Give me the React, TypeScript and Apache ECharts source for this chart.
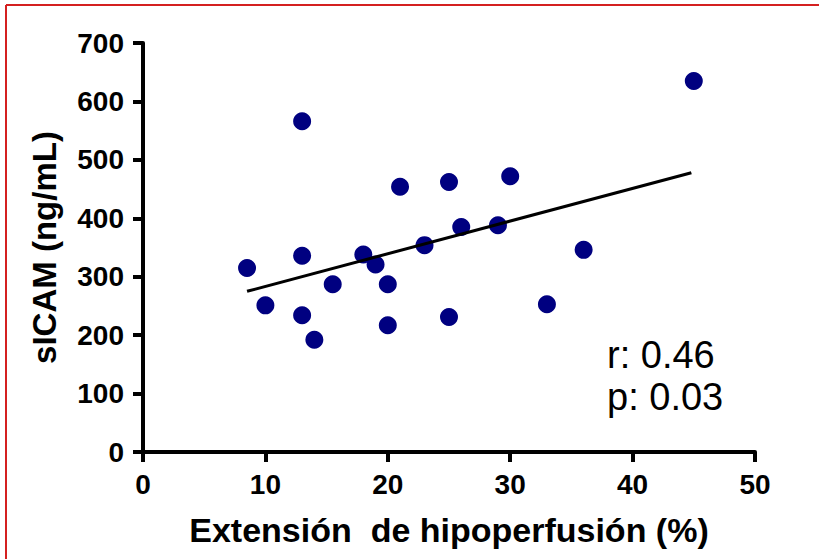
import React, { useEffect, useRef } from "react";
import * as echarts from "echarts";

const xValues: number[] = [13, 21, 25, 30, 26, 29, 23, 18, 19, 13, 8.5, 15.5, 20, 10, 13, 14, 20, 25, 33, 45, 36];
const yValues: number[] = [566, 454, 462, 472, 385, 388, 354, 338, 321, 336, 315, 287, 287, 251, 234, 192, 217, 231, 253, 635, 346];
const fitX: number[] = [8.5, 44.8];
const fitY: number[] = [275, 478];
const statsLines: string[] = ["r: 0.46", "p: 0.03"];
const xTitle = "Extensión  de hipoperfusión (%)";
const yTitle = "sICAM (ng/mL)";

const FONT = "'Liberation Sans', Arial, Helvetica, sans-serif";

export default function App() {
  const ref = useRef<HTMLDivElement>(null);
  useEffect(() => {
    if (!ref.current) return;
    const chart = echarts.init(ref.current, null, { renderer: "svg" });
    const axisCommon = {
      axisLine: { show: true, onZero: false, lineStyle: { color: "#000", width: 4 } },
      axisTick: { show: true, length: 10, lineStyle: { color: "#000", width: 4 } },
      splitLine: { show: false },
      nameLocation: "middle" as const,
    };
    chart.setOption({
      animation: false,
      backgroundColor: "#fff",
      grid: { left: 143, right: 64, top: 43, bottom: 107, containLabel: false },
      xAxis: {
        type: "value",
        min: 0,
        max: 50,
        interval: 10,
        ...axisCommon,
        name: xTitle,
        nameGap: 61,
        nameTextStyle: { fontFamily: FONT, fontWeight: "bold", fontSize: 34, color: "#000" },
        axisLabel: { fontFamily: FONT, fontWeight: "bold", fontSize: 28, color: "#000", margin: 18 },
      },
      yAxis: {
        type: "value",
        min: 0,
        max: 700,
        interval: 100,
        ...axisCommon,
        name: yTitle,
        nameGap: 82,
        nameTextStyle: { fontFamily: FONT, fontWeight: "bold", fontSize: 33, color: "#000" },
        axisLabel: { fontFamily: FONT, fontWeight: "bold", fontSize: 28, color: "#000", margin: 19 },
      },
      series: [
        {
          type: "line",
          data: fitX.map((x, i) => [x, fitY[i]]),
          showSymbol: false,
          symbol: "none",
          lineStyle: { color: "#000", width: 3 },
          z: 3,
        },
        {
          type: "scatter",
          data: xValues.map((x, i) => [x, yValues[i]]),
          symbol: "circle",
          symbolSize: 18,
          itemStyle: { color: "#000080", opacity: 1 },
          z: 2,
        },
      ],
      graphic: [
        {
          type: "line",
          shape: { x1: 6, y1: 5, x2: 819, y2: 5 },
          style: { stroke: "#d42020", lineWidth: 2 },
        },
        {
          type: "line",
          shape: { x1: 6, y1: 5, x2: 6, y2: 559 },
          style: { stroke: "#d42020", lineWidth: 2 },
        },
        ...statsLines.map((t, i) => ({
          type: "text",
          left: 607,
          top: 336 + i * 42,
          style: { text: t, fontFamily: FONT, fontSize: 38, fill: "#000" },
        })),
      ],
    });
    return () => chart.dispose();
  }, []);
  return (
    <div
      ref={ref}
      style={{ position: "fixed", left: 0, top: 0, width: 819, height: 559, background: "#fff" }}
    />
  );
}
